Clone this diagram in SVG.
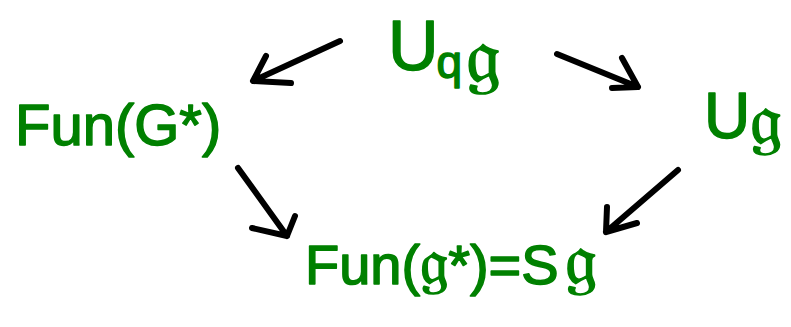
<svg xmlns="http://www.w3.org/2000/svg" width="791" height="327" viewBox="0 0 791 327">
<style>
.lbl{font-family:"Liberation Sans","DejaVu Sans",sans-serif;fill:#008000;stroke:#008000;stroke-width:1.5;stroke-linejoin:round}
.arr{fill:none;stroke:#000;stroke-width:6;stroke-linecap:round;stroke-linejoin:round}
</style>
<rect width="791" height="327" fill="#fff"/>
<g id="node-uqg">
<text class="lbl" x="388" y="70" font-size="70">U<tspan font-size="46" dx="-2" dy="8">q</tspan><tspan font-size="78" dx="4" dy="4">𝔤</tspan></text>
</g>
<g id="node-funG">
<text class="lbl" x="15" y="145" font-size="58">Fun(G*)</text>
</g>
<g id="node-ug">
<text class="lbl" x="704" y="138" font-size="64">U<tspan font-size="72" dy="6">𝔤</tspan></text>
</g>
<g id="node-fung">
<text class="lbl" x="305" y="284" font-size="56">Fun(<tspan font-size="64">𝔤</tspan>*)=S<tspan font-size="72" dx="6">𝔤</tspan></text>
</g>
<g id="connectors">
<path class="arr" d="M340,41 L255,80 M266,56 L253,81 L291,83"/>
<path class="arr" d="M557,54 L638,87 M622,58 L638,87 L612,88"/>
<path class="arr" d="M238,168 L287,236 M295,216 L287,236 L252,228"/>
<path class="arr" d="M678,170 L606,232 M607,207 L606,232 L637,223"/>
</g>
</svg>
